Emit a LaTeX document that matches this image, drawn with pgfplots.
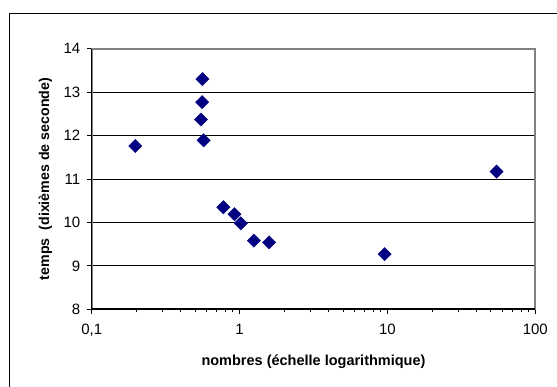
\documentclass[border=0pt]{standalone}
\usepackage{pgfplots}
\pgfplotsset{compat=1.18}
\usepackage{fontspec}
\setmainfont{Liberation Sans}
\definecolor{exnavy}{RGB}{0,0,128}
\definecolor{exgray}{RGB}{128,128,128}
\begin{document}
\begin{tikzpicture}[x=1pt,y=1pt]
\useasboundingbox (0,0) rectangle (557,387);
\draw[line width=1pt] (9,373) rectangle (620,-30);
\begin{axis}[
  at={(91.7pt,77.7pt)}, anchor=south west,
  scale only axis, width=443.6pt, height=260.6pt,
  xmode=log, xmin=0.1, xmax=100, ymin=8, ymax=14,
  xtick={0.1,1,10,100}, xticklabels={{0,1},1,10,100},
  minor xtick={},
  ytick={8,9,10,11,12,13,14},
  xtick pos=bottom, ytick pos=left,
  tick align=outside, major tick length=4.5pt,
  tick style={black, line width=0.8pt},
  ymajorgrids, major grid style={black, line width=0.8pt},
  axis line style={exgray, line width=1.8pt},
  tick label style={font=\fontsize{15}{17}\selectfont},
  xticklabel style={yshift=-7pt},
  yticklabel style={xshift=-3.5pt},
  /pgf/number format/assume math mode=true,
  xlabel={\bfseries nombres (échelle logarithmique)},
  ylabel={\bfseries temps\ \ (dixièmes de seconde)},
  xlabel style={font=\fontsize{14.5}{16}\selectfont, at={(axis description cs:0.5,-0.2022)}, anchor=center},
  ylabel style={font=\fontsize{14.2}{16}\selectfont, at={(axis description cs:-0.1042,0.5)}, anchor=center},
  clip=false,
]
\addplot[only marks, mark=square*, mark size=4.7pt,
  mark options={rotate=45, fill=exnavy, draw=exnavy}] coordinates {
  (0.197,11.76)
  (0.561,13.30)
  (0.558,12.77)
  (0.549,12.37)
  (0.571,11.89)
  (0.777,10.35)
  (0.924,10.19)
  (1.02,9.98)
  (1.25,9.58)
  (1.585,9.54)
  (9.57,9.27)
  (54.7,11.17)
};
\draw[black, line width=1.6pt] (rel axis cs:0,1) -- (rel axis cs:0,0) -- (rel axis cs:1,0);
\end{axis}
\end{tikzpicture}
\end{document}
